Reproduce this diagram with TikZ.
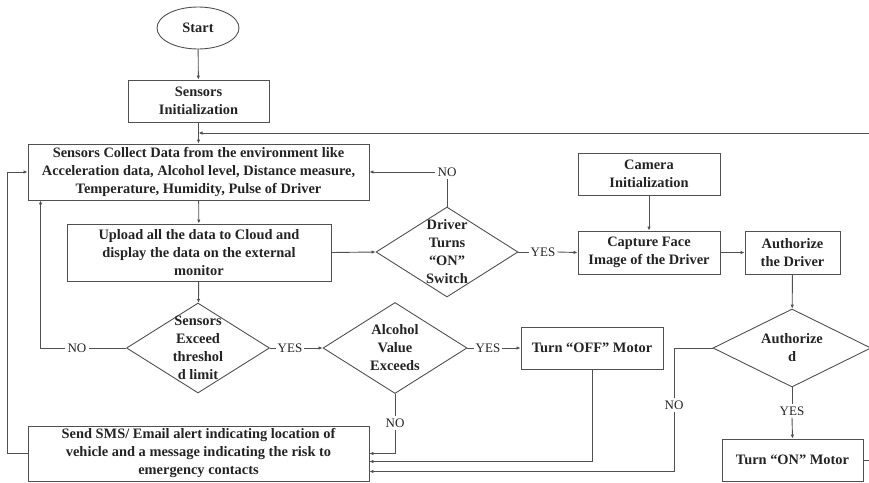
\documentclass[tikz,border=0pt]{standalone}
\usepackage{fontspec}
\setmainfont{Liberation Serif}
\usetikzlibrary{shapes.geometric,arrows.meta,calc}

\definecolor{linegray}{RGB}{80,80,80}
\definecolor{inkgray}{RGB}{35,35,35}

\tikzset{
  flow/.style={draw=linegray, line width=0.9pt},
  box/.style={flow, rectangle, align=center, text=inkgray,
    font=\bfseries\fontsize{14.4}{18}\selectfont, inner sep=0pt},
  decision/.style={flow, diamond, inner sep=0pt},
  dtext/.style={align=center, text=inkgray, inner sep=0pt,
    font=\bfseries\fontsize{14.4}{18}\selectfont},
  answer/.style={text=inkgray, inner sep=2pt, font=\fontsize{13}{15}\selectfont},
  arrow/.style={flow, -{Latex[length=4pt,width=3.5pt]}},
}

\begin{document}
\begin{tikzpicture}[x=1pt,y=-1pt]
        \useasboundingbox (0,0) rectangle (869,482);
        \clip (0,0) rectangle (869,482);
        % left column
        \node[flow, ellipse, minimum width=82pt, minimum height=42pt, text=inkgray,
              font=\bfseries\fontsize{14.4}{18}\selectfont, inner sep=0pt] (start) at (198,28) {Start};
        \node[box, minimum width=141pt, minimum height=42pt] (init) at (198.5,101) {Sensors\\Initialization};
        \node[box, minimum width=341pt, minimum height=56pt] (collect) at (198.5,172)
             {Sensors Collect Data from the environment like\\Acceleration data, Alcohol level, Distance measure,\\Temperature, Humidity, Pulse of Driver};
        \node[box, minimum width=264pt, minimum height=57pt] (upload) at (199,252.5)
             {Upload all the data to Cloud and\\display the data on the external\\monitor};
        \node[decision, minimum width=143pt, minimum height=90pt] (thr) at (198,348) {};
        \node[dtext] (thrtxt) at (thr) {Sensors\\Exceed\\threshol\\d limit};
        \node[decision, minimum width=144pt, minimum height=91pt] (alc) at (395,348) {};
        \node[dtext] (alctxt) at (alc) {Alcohol\\Value\\Exceeds};
        \node[box, minimum width=142pt, minimum height=42pt] (off) at (592,348) {Turn “OFF” Motor};
        \node[box, minimum width=341pt, minimum height=55pt] (send) at (198.5,453.5)
             {Send SMS/ Email alert indicating location of\\vehicle and a message indicating the risk to\\emergency contacts};
        % driver side
        \node[decision, minimum width=142pt, minimum height=90pt] (drv) at (447,252) {};
        \node[dtext] (drvtxt) at (drv) {Driver\\Turns\\“ON”\\Switch};
        \node[box, minimum width=142pt, minimum height=42pt] (cam) at (649,174) {Camera\\Initialization};
        \node[box, minimum width=142pt, minimum height=43pt] (cap) at (649,252.5) {Capture Face\\Image of the Driver};
        \node[box, minimum width=95pt, minimum height=43pt] (auth) at (792.5,252.5) {Authorize\\the Driver};
        \node[decision, minimum width=158pt, minimum height=78pt] (authd) at (792,348) {};
        \node[dtext] (authdtxt) at (authd) {Authorize\\d};
        \node[box, minimum width=141pt, minimum height=42pt] (on) at (792.5,460) {Turn “ON” Motor};

        \node[answer] (no1) at (77,348) {NO};
        \node[answer] (yes1) at (290,348) {YES};
        \node[answer] (yes2) at (488,348) {YES};
        \node[answer] (no2) at (395,423) {NO};
        \node[answer] (no3) at (674,405) {NO};
        \node[answer] (no4) at (447,172) {NO};
        \node[answer] (yes3) at (543,252) {YES};
        \node[answer] (yes4) at (792,411) {YES};

        \coordinate (merge) at ($(init.south)!.5!(collect.north)$);
        \coordinate (edge) at (885,0);

        \draw[arrow] (start) -- (init);
        \draw[arrow] (init) -- (collect);
        \draw[arrow] (collect) -- (upload);
        \draw[arrow] (upload) -- (thr);
        \draw[flow] (thr.west) -- (no1.east);
        \draw[arrow] (no1.west) -| ([xshift=13pt]collect.south west);
        \draw[flow] (thr.east) -- (yes1.west);
        \draw[arrow] (yes1.east) -- (alc.west);
        \draw[flow] (alc.east) -- (yes2.west);
        \draw[arrow] (yes2.east) -- (off.west);
        \draw[flow] (alc.south) -- (no2.north);
        \draw[arrow] (no2.south) |- (send.east);
        \draw[arrow] (off.south) |- ([yshift=-8pt]send.east);
        \draw[flow] (authd.west) -| (no3.north);
        \draw[arrow] (no3.south) |- ([yshift=-18pt]send.east);
        \draw[arrow] (send.west) -- ++(-20,0) |- (collect.west);
        \draw[arrow] (upload.east) -- (drv.west);
        \draw[flow] (drv.north) -- (no4.south);
        \draw[arrow] (no4.west) -- (collect.east);
        \draw[flow] (drv.east) -- (yes3.west);
        \draw[arrow] (yes3.east) -- (cap.west);
        \draw[arrow] (cam) -- (cap);
        \draw[arrow] (cap) -- (auth);
        \draw[arrow] (auth) -- (authd);
        \draw[flow] (authd.south) -- (yes4.north);
        \draw[arrow] (yes4.south) -- (on.north);
        \draw[arrow] (on.east) -| (edge |- merge) -- (merge);
    \end{tikzpicture}
\end{document}
